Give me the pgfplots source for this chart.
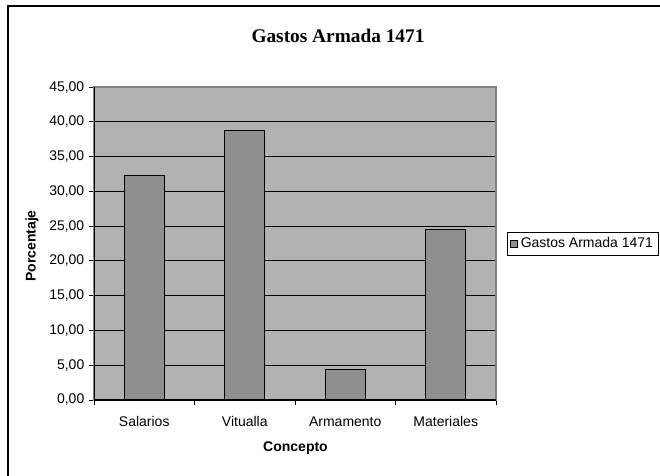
\documentclass[border=0pt]{standalone}
\usepackage{pgfplots}
\pgfplotsset{compat=1.18}
\usepackage{fontspec}
\setmainfont{Liberation Sans}
\newfontfamily\titlefont{Liberation Serif}
\definecolor{plotgray}{RGB}{178,178,178}
\definecolor{bargray}{RGB}{143,143,143}
\definecolor{edgegray}{RGB}{128,128,128}
\begin{document}
\begin{tikzpicture}
\begin{scope}[x=0.75pt,y=-0.75pt]
\useasboundingbox (0,0) rectangle (660,475);
\draw[line width=1.5pt] (8,495) -- (8,6) -- (680,6);
\node[font=\titlefont\bfseries\fontsize{14.5}{17}\selectfont] at (338,36) {Gastos Armada 1471};
\node[font=\bfseries\fontsize{10.5}{12}\selectfont, rotate=90] at (32,246) {Porcentaje};
\node[font=\bfseries\fontsize{10.5}{12}\selectfont] at (295.5,448) {Concepto};
\end{scope}
\begin{axis}[
  at={(70.5pt,-300pt)}, anchor=south west,
  scale only axis, width=301.5pt, height=234.75pt,
  xmin=-0.5, xmax=3.5, ymin=0, ymax=45,
  ybar, bar width=30pt,
  axis background/.style={fill=plotgray},
  axis line style={edgegray, line width=0.8pt},
  ymajorgrids, grid style={black, line width=0.8pt},
  xtick pos=bottom, ytick pos=left,
  ytick={0,5,...,45},
  xtick={-0.5,0.5,1.5,2.5,3.5}, xticklabels={},
  extra x ticks={0,1,2,3},
  extra x tick labels={Salarios,Vitualla,Armamento,Materiales},
  extra x tick style={major tick length=0pt, xticklabel style={yshift=-8pt, text height=8pt, text depth=2pt}},
  tick align=outside, major tick length=3.75pt,
  tick style={black, line width=0.6pt},
  ticklabel style={font=\fontsize{10.5}{12}\selectfont},
  yticklabel style={/pgf/number format/.cd, fixed, fixed zerofill, precision=2, use comma, assume math mode=true},
  xticklabel style={/pgf/number format/assume math mode=true},
  legend style={at={(1.0274,0.537)}, anchor=north west, draw=black, line width=0.6pt,
    font=\fontsize{10.5}{12}\selectfont, inner xsep=2pt, inner ysep=2pt},
  legend image code/.code={\draw[#1, draw=black, line width=0.5pt] (0pt,-2.75pt) rectangle (5.5pt,2.75pt);},
]
\addplot[fill=bargray, draw=black, line width=0.8pt] coordinates {(0,32.25) (1,38.8) (2,4.45) (3,24.5)};
\addlegendentry{Gastos Armada 1471}
\draw[black, line width=0.8pt] (rel axis cs:0,1) -- (rel axis cs:0,0) -- (rel axis cs:1,0);
\end{axis}
\end{tikzpicture}
\end{document}
